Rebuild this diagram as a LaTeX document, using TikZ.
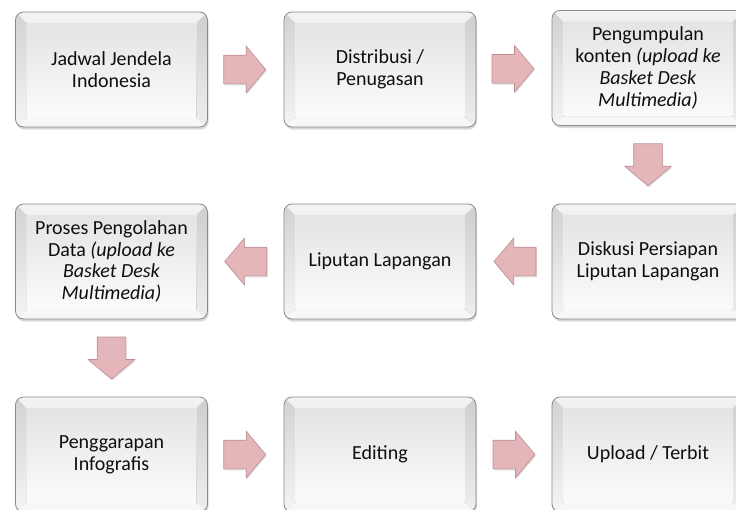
\documentclass[tikz,border=0pt]{standalone}
\usepackage{fontspec}
\setmainfont{Carlito}
\usetikzlibrary{shapes.arrows,shadows,calc}

\definecolor{ink}{HTML}{0E0E0E}
\definecolor{rimline}{HTML}{8A8A8A}
\definecolor{outerTop}{HTML}{F2F2F2}
\definecolor{outerBot}{HTML}{C4C4C4}
\definecolor{rimTopA}{HTML}{F3F3F3}
\definecolor{rimTopB}{HTML}{D8D8D8}
\definecolor{rimSideA}{HTML}{D2D2D2}
\definecolor{rimSideB}{HTML}{F4F4F4}
\definecolor{rimRightA}{HTML}{CECECE}
\definecolor{rimRightB}{HTML}{EEEEEE}
\definecolor{rimBot}{HTML}{F7F7F7}
\definecolor{faceTop}{HTML}{E4E4E4}
\definecolor{faceBot}{HTML}{FBFBFB}
\definecolor{arrowFill}{HTML}{E4B6BA}
\definecolor{arrowLine}{HTML}{BE8E93}

\tikzset{
  bevelbox/.style={
    rounded corners=8pt, draw=rimline, line width=0.8pt,
    top color=outerTop, bottom color=outerBot,
    minimum width=192pt, minimum height=115pt,
    align=center, inner sep=0pt, text=ink,
    font=\fontsize{20}{21.8}\selectfont,
    drop shadow={opacity=0.3, shadow xshift=1pt, shadow yshift=-2.5pt},
    path picture={
      % upper bevel
      \shade[sharp corners, top color=rimTopA, bottom color=rimTopB]
        (path picture bounding box.north west) -- (path picture bounding box.north east)
        -- ([xshift=-11pt,yshift=-11pt]path picture bounding box.north east)
        -- ([xshift=11pt,yshift=-11pt]path picture bounding box.north west) -- cycle;
      % left bevel
      \shade[sharp corners, top color=rimSideA, bottom color=rimSideB]
        (path picture bounding box.north west)
        -- ([xshift=11pt,yshift=-11pt]path picture bounding box.north west)
        -- ([xshift=11pt,yshift=9pt]path picture bounding box.south west)
        -- (path picture bounding box.south west) -- cycle;
      % right bevel
      \shade[sharp corners, top color=rimRightA, bottom color=rimRightB]
        (path picture bounding box.north east)
        -- (path picture bounding box.south east)
        -- ([xshift=-11pt,yshift=9pt]path picture bounding box.south east)
        -- ([xshift=-11pt,yshift=-11pt]path picture bounding box.north east) -- cycle;
      % lower bevel
      \fill[sharp corners, rimBot]
        (path picture bounding box.south west)
        -- (path picture bounding box.south east)
        -- ([xshift=-11pt,yshift=9pt]path picture bounding box.south east)
        -- ([xshift=11pt,yshift=9pt]path picture bounding box.south west) -- cycle;
      % raised face
      \shade[rounded corners=2pt, top color=faceTop, bottom color=faceBot]
        ([xshift=11pt,yshift=-11pt]path picture bounding box.north west)
        rectangle ([xshift=-11pt,yshift=9pt]path picture bounding box.south east);
    }
  },
  blockarrow/.style={
    single arrow, draw=arrowLine, fill=arrowFill, line width=0.6pt,
    text height=14pt, text depth=14pt, text width=0pt, inner sep=0pt,
    minimum height=42pt,
    single arrow head extend=9pt, single arrow tip angle=100,
    drop shadow={opacity=0.25, shadow xshift=0.8pt, shadow yshift=-1.5pt}
  }
}

\begin{document}
\begin{tikzpicture}[x=1pt,y=-1pt]
  \useasboundingbox (0,0) rectangle (736,509);
  \clip (0,0) rectangle (736,509);
  \fill[white] (0,0) rectangle (736,509);

  % process steps, three rows
  \node[bevelbox] (b1) at (111.5,69.5) {Jadwal Jendela\\Indonesia};
  \node[bevelbox] (b2) at (380,69.5) {Distribusi /\\Penugasan};
  \node[bevelbox] (b3) at (648,68)
    {Pengumpulan\\konten \textit{(upload ke}\\\textit{Basket Desk}\\\textit{Multimedia)}};

  \node[bevelbox] (b6) at (648,261.5) {Diskusi Persiapan\\Liputan Lapangan};
  \node[bevelbox] (b5) at (380,261.5) {Liputan Lapangan};
  \node[bevelbox] (b4) at (111.5,261.5)
    {Proses Pengolahan\\Data \textit{(upload ke}\\\textit{Basket Desk}\\\textit{Multimedia)}};

  \node[bevelbox] (b7) at (111.5,454.5) {Penggarapan\\Infografis};
  \node[bevelbox] (b8) at (380,454.5) {Editing};
  \node[bevelbox] (b9) at (648,454.5) {Upload / Terbit};

  % flow arrows between the steps (the arrow's centre sits on its body,
  % so each is pulled back a little against its direction)
  \node[blockarrow] (a12) at ($(b1.east)!0.5!(b2.west)+(-7,0)$) {};
  \node[blockarrow] (a23) at ($(b2.east)!0.5!(b3.west)+(-7,0)$) {};
  \node[blockarrow, rotate=270] (a36) at ($(b3.south)!0.5!(b6.north)+(0,-6)$) {};
  \node[blockarrow, rotate=180] (a65) at ($(b6.west)!0.5!(b5.east)+(7,0)$) {};
  \node[blockarrow, rotate=180] (a54) at ($(b5.west)!0.5!(b4.east)+(6,0)$) {};
  \node[blockarrow, rotate=270] (a47) at ($(b4.south)!0.5!(b7.north)+(0,-6)$) {};
  \node[blockarrow] (a78) at ($(b7.east)!0.5!(b8.west)+(-7,0)$) {};
  \node[blockarrow] (a89) at ($(b8.east)!0.5!(b9.west)+(-6,0)$) {};
\end{tikzpicture}
\end{document}
